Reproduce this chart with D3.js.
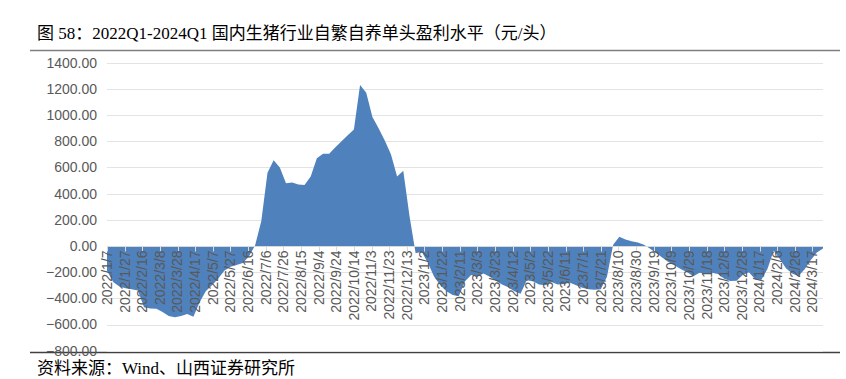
<!DOCTYPE html>
<html>
<head>
<meta charset="utf-8">
<script src="https://cdn.jsdelivr.net/npm/d3@7"></script>
<style>
  body { margin: 0; background: #fff; }
</style>
</head>
<body>
<div id="chart"></div>
<script>
// weekly data, first week and values
const firstWeek = "2022/1/7";
const profit = [
  -190, -275, -310, -322, -330, -340, -468, -477, -480, -505,
  -535, -545, -535, -520, -540, -430, -345, -300, -250, -190,
  -158, -145, -130, -80, 5, 190, 560, 655, 600, 480,
  485, 470, 465, 530, 670, 705, 705, 755, 800, 845,
  890, 1230, 1170, 985, 900, 805, 700, 530, 575, 230,
  -55, -45, -130, -235, -300, -345, -375, -385, -270, -222,
  -235, -210, -235, -265, -295, -315, -345, -365, -262, -270,
  -295, -300, -275, -295, -290, -280, -300, -320, -330, -335,
  -330, -235, 10, 70, 50, 37, 26, 10, -22, -55,
  -90, -125, -150, -178, -200, -232, -205, -215, -205, -215,
  -250, -268, -265, -222, -200, -255, -260, -175, -35, -100,
  -170, -210, -230, -180, -110, -50, -20
];
const xTickLabels = [
  "2022/1/7", "2022/1/27", "2022/2/16", "2022/3/8", "2022/3/28", "2022/4/17",
  "2022/5/7", "2022/5/27", "2022/6/16", "2022/7/6", "2022/7/26", "2022/8/15",
  "2022/9/4", "2022/9/24", "2022/10/14", "2022/11/3", "2022/11/23", "2022/12/13",
  "2023/1/2", "2023/1/22", "2023/2/11", "2023/3/3", "2023/3/23", "2023/4/12",
  "2023/5/2", "2023/5/22", "2023/6/11", "2023/7/1", "2023/7/21", "2023/8/10",
  "2023/8/30", "2023/9/19", "2023/10/9", "2023/10/29", "2023/11/18", "2023/12/8",
  "2023/12/28", "2024/1/17", "2024/2/6", "2024/2/26", "2024/3/17"
];
const yTicks = [-800, -600, -400, -200, 0, 200, 400, 600, 800, 1000, 1200, 1400];

const titleText = "图 58：2022Q1-2024Q1 国内生猪行业自繁自养单头盈利水平（元/头）";
const sourceText = "资料来源：Wind、山西证券研究所";

const W = 846, H = 379;
const plot = { left: 107, right: 823, top: 62.7, bottom: 350.7 };

const parseDate = d3.utcParse("%Y/%m/%d");
const t0 = parseDate(firstWeek);
const data = profit.map((v, i) => ({ date: d3.utcDay.offset(t0, 7 * i), value: v }));

const x = d3.scaleUtc()
    .domain([data[0].date, data[data.length - 1].date])
    .range([plot.left, plot.right]);
const y = d3.scaleLinear()
    .domain([-800, 1400])
    .range([plot.bottom, plot.top]);

const svg = d3.select("#chart").append("svg")
    .attr("width", W)
    .attr("height", H)
    .style("display", "block");

// title + rules
svg.append("text")
    .attr("x", 37).attr("y", 39)
    .attr("font-family", "'Liberation Serif', 'Noto Sans CJK SC', serif")
    .attr("font-size", 17)
    .attr("fill", "#000")
    .text(titleText);

svg.append("line")
    .attr("x1", 30).attr("x2", 840).attr("y1", 50.5).attr("y2", 50.5)
    .attr("stroke", "#7f7f7f").attr("stroke-width", 1.5);
svg.append("line")
    .attr("x1", 30).attr("x2", 840).attr("y1", 352.5).attr("y2", 352.5)
    .attr("stroke", "#404040").attr("stroke-width", 1.5);

svg.append("text")
    .attr("x", 37).attr("y", 374)
    .attr("font-family", "'Liberation Serif', 'Noto Sans CJK SC', serif")
    .attr("font-size", 17)
    .attr("fill", "#000")
    .text(sourceText);

// grid lines
svg.append("g")
    .selectAll("line")
    .data(yTicks.filter(d => d !== 0))
    .join("line")
    .attr("x1", plot.left).attr("x2", plot.right)
    .attr("y1", d => Math.round(y(d)) + 0.5)
    .attr("y2", d => Math.round(y(d)) + 0.5)
    .attr("stroke", "#e3e3e3");

// y labels
svg.append("g")
    .selectAll("text")
    .data(yTicks)
    .join("text")
    .attr("x", 97)
    .attr("y", d => y(d))
    .attr("dy", "0.35em")
    .attr("text-anchor", "end")
    .attr("font-family", "'Liberation Sans', Arial, sans-serif")
    .attr("font-size", 14)
    .attr("fill", "#595959")
    .text(d => d3.format(".2f")(d));

// area
const area = d3.area()
    .x(d => x(d.date))
    .y0(y(0))
    .y1(d => y(d.value));

svg.append("path")
    .datum(data)
    .attr("d", area)
    .attr("fill", "#4f81bd");

// x axis line + ticks on top of the area
const y0 = Math.round(y(0)) + 0.5;
svg.append("line")
    .attr("x1", plot.left).attr("x2", plot.right)
    .attr("y1", y0).attr("y2", y0)
    .attr("stroke", "#d9d9d9");

const tickDates = xTickLabels.map(parseDate);
svg.append("g")
    .selectAll("line")
    .data(tickDates)
    .join("line")
    .attr("x1", d => Math.round(x(d)) + 0.5)
    .attr("x2", d => Math.round(x(d)) + 0.5)
    .attr("y1", y0).attr("y2", y0 + 5)
    .attr("stroke", "#d9d9d9");

svg.append("g")
    .selectAll("text")
    .data(xTickLabels)
    .join("text")
    .attr("transform", d => `translate(${x(parseDate(d))},${y0 + 4}) rotate(-90)`)
    .attr("dy", "0.35em")
    .attr("text-anchor", "end")
    .attr("font-family", "'Liberation Sans', Arial, sans-serif")
    .attr("font-size", 14)
    .attr("fill", "#595959")
    .text(d => d);
</script>
</body>
</html>
